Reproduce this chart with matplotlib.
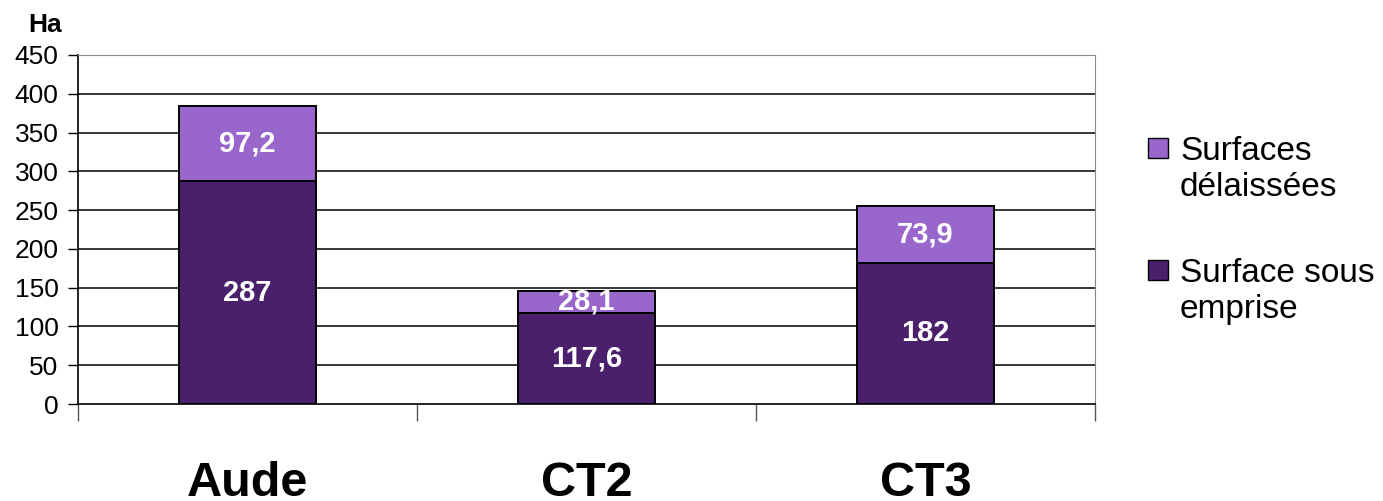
import numpy as np
from matplotlib import pyplot as plt
from matplotlib.patches import Rectangle
import matplotlib
matplotlib.rcParams.update({'font.family': ['Liberation Sans', 'DejaVu Sans']})

categories = ['Aude', 'CT2', 'CT3']
emprise = [287, 117.6, 182]
delaissees = [97.2, 28.1, 73.9]
emprise_labels = ['287', '117,6', '182']
delaissees_labels = ['97,2', '28,1', '73,9']
series_names = ['Surfaces\ndélaissées', 'Surface sous\nemprise']
yticks = [0, 50, 100, 150, 200, 250, 300, 350, 400, 450]

dark = '#4A1F6C'
light = '#9966CC'

fig = plt.figure(figsize=(13.83, 5.01), dpi=100)
ax = fig.add_axes([78/1383, 97/501, (1095-78)/1383, (404-55)/501])

x = np.arange(len(categories))
width = 0.405
ax.bar(x, emprise, width, color=dark, edgecolor='black', lw=1.4, zorder=3)
ax.bar(x, delaissees, width, bottom=emprise, color=light, edgecolor='black', lw=1.4, zorder=3)

for i in range(len(categories)):
    ax.text(x[i], emprise[i] / 2, emprise_labels[i], ha='center', va='center',
            color='white', fontsize=21, fontweight='bold', zorder=4)
    ax.text(x[i], emprise[i] + delaissees[i] / 2, delaissees_labels[i], ha='center', va='center',
            color='white', fontsize=21, fontweight='bold', zorder=4)

ax.set_xlim(-0.5, 2.5)
ax.set_ylim(0, 450)
ax.set_yticks(yticks)
ax.tick_params(axis='y', labelsize=19, length=7, width=1, pad=7)
for y in yticks[1:-1]:
    ax.axhline(y, color='black', lw=1.1, zorder=1)

ax.set_xticks(x, categories)
ax.tick_params(axis='x', which='major', length=0, labelsize=35, pad=41)
for lbl in ax.get_xticklabels():
    lbl.set_fontweight('bold')
ax.set_xticks([-0.5, 0.5, 1.5, 2.5], minor=True)
ax.tick_params(axis='x', which='minor', length=12, width=1, color='#555555')

ax.spines['top'].set_color('#888888')
ax.spines['right'].set_color('#888888')
ax.spines['left'].set_linewidth(1.2)
ax.spines['bottom'].set_linewidth(1.2)

fig.text(45/1383, 1 - 25/501, 'Ha', ha='center', va='center', fontsize=19, fontweight='bold')

# legend drawn by hand so the square sits beside the first line
colors = [light, dark]
legend_y = [148, 270]
for name, c, ly in zip(series_names, colors, legend_y):
    fig.add_artist(Rectangle((1148/1383, 1 - (ly + 10)/501), 20/1383, 20/501,
                             transform=fig.transFigure, facecolor=c, edgecolor='black', lw=1))
    fig.text(1180/1383, 1 - (ly - 12)/501, name, ha='left', va='top', fontsize=24,
             linespacing=1.2)

fig.savefig('out.png')
